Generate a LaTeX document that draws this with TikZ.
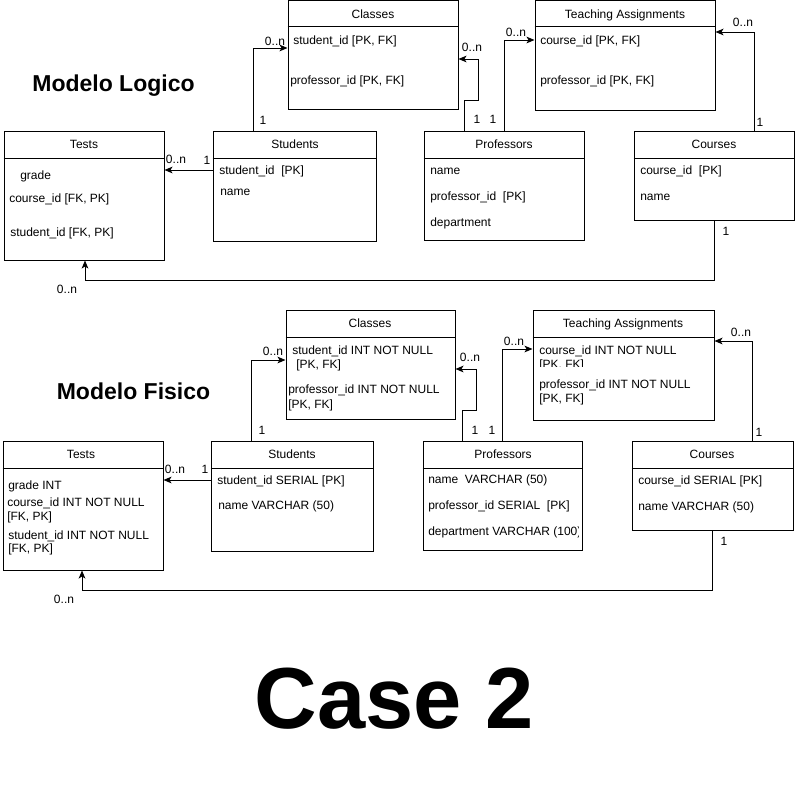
\documentclass[tikz,border=0pt]{standalone}
\usepackage{fontspec}
\setmainfont{Liberation Sans}
\usetikzlibrary{arrows.meta,fit,calc}
\begin{document}
\begin{tikzpicture}[x=0.75pt,y=-0.75pt,
  box/.style={draw, line width=0.75pt, inner sep=0pt},
  txt/.style={anchor=west, inner sep=0pt, yshift=-0.75pt, text height=7pt, text depth=2pt, font=\fontsize{9}{11}\selectfont},
  ttl/.style={anchor=center, inner sep=0pt, yshift=-0.75pt, text height=7pt, text depth=2pt, font=\fontsize{9}{11}\selectfont},
  lbl/.style={anchor=center, inner sep=0pt, yshift=-0.75pt, text height=7pt, text depth=2pt, font=\fontsize{9}{11}\selectfont},
  conn/.style={line width=0.75pt, -{Stealth[length=6pt,width=5pt,inset=1.5pt]}},
  div/.style={line width=0.75pt},
  big/.style={font=\bfseries\fontsize{17.25}{20}\selectfont, inner sep=0pt, anchor=center}
]
\useasboundingbox (0,0) rectangle (795,811);

% ================= TOP: Modelo Logico =================
\node[big] (t1) at (113.5,86) {Modelo Logico};

\node[box, fit={(288,0.5)(458,109)}] (cls1) {};
\node[box, fit={(535,0.5)(715,110)}] (ta1) {};
\node[box, fit={(4,131)(164,260)}] (tst1) {};
\node[box, fit={(213,131)(376,241)}] (stu1) {};
\node[box, fit={(424,131)(584,240)}] (prf1) {};
\node[box, fit={(634,131)(794,220)}] (crs1) {};

\draw[div] (cls1.west |- 0,26) -- (cls1.east |- 0,26);
\draw[div] (ta1.west |- 0,26) -- (ta1.east |- 0,26);
\draw[div] (tst1.west |- 0,158) -- (tst1.east |- 0,158);
\draw[div] (stu1.west |- 0,158) -- (stu1.east |- 0,158);
\draw[div] (prf1.west |- 0,158) -- (prf1.east |- 0,158);
\draw[div] (crs1.west |- 0,158) -- (crs1.east |- 0,158);

\node[ttl] (cls1h) at (373,14) {Classes};
\node[txt] (cls1a) at (293,40) {student\_id [PK, FK]};
\node[txt] (cls1b) at (290,80) {professor\_id [PK, FK]};

\node[ttl] (ta1h) at (625,14) {Teaching Assignments};
\node[txt] (ta1a) at (540,40) {course\_id [PK, FK]};
\node[txt] (ta1b) at (540,80) {professor\_id [PK, FK]};

\node[ttl] (tst1h) at (84,144) {Tests};
\node[txt] (tst1a) at (20,175) {grade};
\node[txt] (tst1b) at (9,198) {course\_id [FK, PK]};
\node[txt] (tst1c) at (10,232) {student\_id [FK, PK]};

\node[ttl] (stu1h) at (295,144) {Students};
\node[txt] (stu1a) at (219,170) {student\_id\ \ [PK]};
\node[txt] (stu1b) at (220,191) {name};

\node[ttl] (prf1h) at (504,144) {Professors};
\node[txt] (prf1a) at (430,170) {name};
\node[txt] (prf1b) at (430,196) {professor\_id\ \ [PK]};
\node[txt] (prf1c) at (430,222) {department};

\node[ttl] (crs1h) at (714,144) {Courses};
\node[txt] (crs1a) at (640,170) {course\_id\ \ [PK]};
\node[txt] (crs1b) at (640,196) {name};

% connectors top
\draw[conn] (stu1.north -| 253,0) |- (cls1.west |- 0,48);
\node[lbl] (l1a) at (275,41) {0..n};
\node[lbl] (l1b) at (263,120) {1};

\draw[conn] (prf1.north -| 464,0) -- (464,100) -- (478,100) -- (478,59) -- (cls1.east |- 0,59);
\node[lbl] (l2a) at (472,47) {0..n};
\node[lbl] (l2b) at (477,119) {1};

\draw[conn] (prf1.north -| 504,0) |- (ta1.west |- 0,40);
\node[lbl] (l3a) at (516,32) {0..n};
\node[lbl] (l3b) at (493,119) {1};

\draw[conn] (crs1.north -| 754,0) |- (ta1.east |- 0,32);
\node[lbl] (l4a) at (743,22) {0..n};
\node[lbl] (l4b) at (760,122) {1};

\draw[conn] (stu1.west |- 0,170) -- (tst1.east |- 0,170);
\node[lbl] (l5a) at (176,159) {0..n};
\node[lbl] (l5b) at (207,160) {1};

\draw[conn] (crs1.south -| 714,0) |- (85,280) -- (tst1.south -| 85,0);
\node[lbl] (l6a) at (726,231) {1};
\node[lbl] (l6b) at (67,289) {0..n};

% ================= BOTTOM: Modelo Fisico =================
\node[big] (t2) at (133.5,391) {Modelo Fisico};

\node[box, fit={(286,310)(455,419)}] (cls2) {};
\node[box, fit={(533,310)(714,420)}] (ta2) {};
\node[box, fit={(3,441)(163,570)}] (tst2) {};
\node[box, fit={(211,441)(373,551)}] (stu2) {};
\node[box, fit={(423,441)(582,550)}] (prf2) {};
\node[box, fit={(632,441)(793,530)}] (crs2) {};

\draw[div] (cls2.west |- 0,337) -- (cls2.east |- 0,337);
\draw[div] (ta2.west |- 0,337) -- (ta2.east |- 0,337);
\draw[div] (tst2.west |- 0,468) -- (tst2.east |- 0,468);
\draw[div] (stu2.west |- 0,468) -- (stu2.east |- 0,468);
\draw[div] (prf2.west |- 0,468) -- (prf2.east |- 0,468);
\draw[div] (crs2.west |- 0,468) -- (crs2.east |- 0,468);

\node[ttl] (cls2h) at (370,323) {Classes};
\node[txt] (cls2a) at (292,350) {student\_id INT NOT NULL};
\node[txt] (cls2b) at (296,364) {[PK, FK]};
\node[txt] (cls2c) at (288,389) {professor\_id INT NOT NULL};
\node[txt] (cls2d) at (288,404) {[PK, FK]};

\node[ttl] (ta2h) at (623,323) {Teaching Assignments};
\node[txt] (ta2a) at (539,350) {course\_id INT NOT NULL};
\begin{scope}
\clip (533,340) rectangle (714,366);
\node[txt] (ta2b) at (539,364) {[PK, FK]};
\end{scope}
\node[txt] (ta2c) at (539,384) {professor\_id INT NOT NULL};
\node[txt] (ta2d) at (539,398) {[PK, FK]};

\node[ttl] (tst2h) at (81,454) {Tests};
\node[txt] (tst2a) at (8,485) {grade INT};
\node[txt] (tst2b) at (7,502) {course\_id INT NOT NULL};
\node[txt] (tst2c) at (7,516) {[FK, PK]};
\node[txt] (tst2d) at (8,535) {student\_id INT NOT NULL};
\node[txt] (tst2e) at (8,548) {[FK, PK]};

\node[ttl] (stu2h) at (292,454) {Students};
\node[txt] (stu2a) at (217,480) {student\_id SERIAL [PK]};
\node[txt] (stu2b) at (218,505) {name VARCHAR (50)};

\node[ttl] (prf2h) at (503,454) {Professors};
\node[txt] (prf2a) at (428,479) {name\ \ VARCHAR (50)};
\node[txt] (prf2b) at (428,505) {professor\_id SERIAL\ \ [PK]};
\begin{scope}
\clip (424,520) rectangle (578,545);
\node[txt] (prf2c) at (428,531) {department VARCHAR (100)};
\end{scope}

\node[ttl] (crs2h) at (712,454) {Courses};
\node[txt] (crs2a) at (638,480) {course\_id SERIAL [PK]};
\node[txt] (crs2b) at (638,506) {name VARCHAR (50)};

% connectors bottom
\draw[conn] (stu2.north -| 251,0) |- (cls2.west |- 0,360);
\node[lbl] (m1a) at (273,351) {0..n};
\node[lbl] (m1b) at (262,430) {1};

\draw[conn] (prf2.north -| 462,0) -- (462,410) -- (476,410) -- (476,369) -- (cls2.east |- 0,369);
\node[lbl] (m2a) at (470,357) {0..n};
\node[lbl] (m2b) at (475,430) {1};

\draw[conn] (prf2.north -| 502,0) |- (ta2.west |- 0,349);
\node[lbl] (m3a) at (514,341) {0..n};
\node[lbl] (m3b) at (492,430) {1};

\draw[conn] (crs2.north -| 752,0) |- (ta2.east |- 0,341);
\node[lbl] (m4a) at (741,332) {0..n};
\node[lbl] (m4b) at (759,432) {1};

\draw[conn] (stu2.west |- 0,480) -- (tst2.east |- 0,480);
\node[lbl] (m5a) at (175,469) {0..n};
\node[lbl] (m5b) at (205,469) {1};

\draw[conn] (crs2.south -| 712,0) |- (82,590) -- (tst2.south -| 82,0);
\node[lbl] (m6a) at (724,541) {1};
\node[lbl] (m6b) at (64,599) {0..n};

% ================= Case 2 =================
\node[font=\bfseries\fontsize{65}{70}\selectfont, inner sep=0pt, anchor=center] (case) at (394.5,699) {Case 2};
\end{tikzpicture}
\end{document}
